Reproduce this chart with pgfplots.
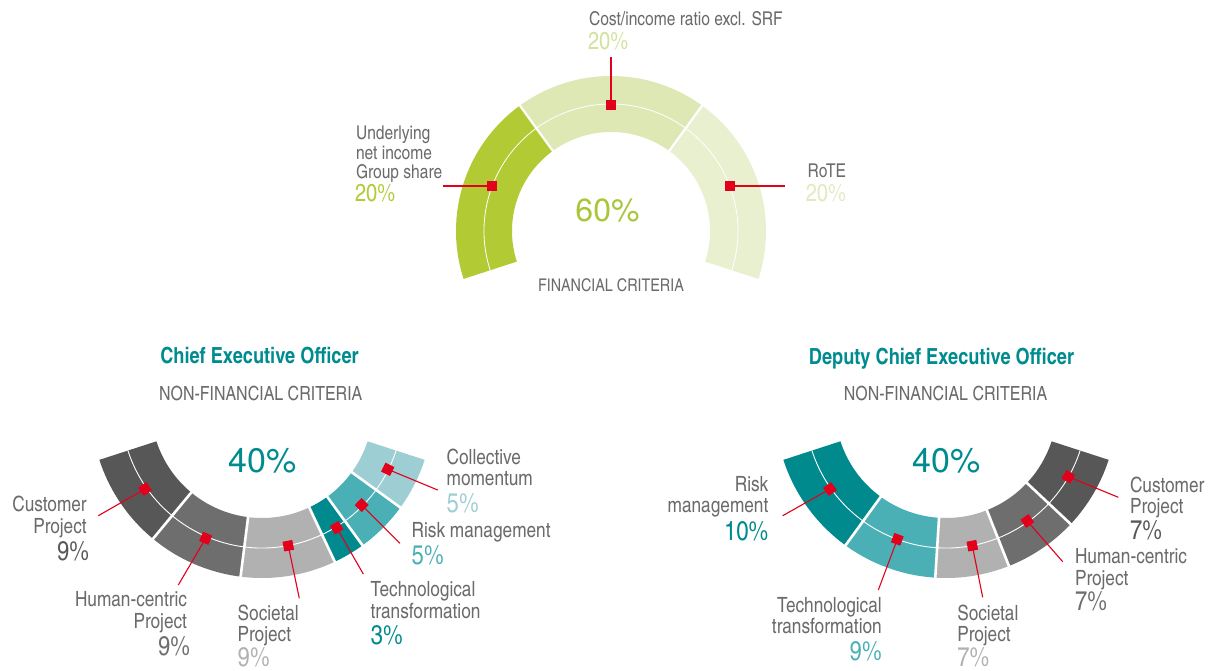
\documentclass[border=0pt]{standalone}
\usepackage{fontspec}
\setmainfont{texgyreheroscn-regular.otf}[BoldFont=texgyreheroscn-bold.otf]
\newfontfamily\numfont{texgyreheros-regular.otf}
\usepackage{pgfplots}
\pgfplotsset{compat=1.18}
\usetikzlibrary{calc}
\definecolor{gA}{HTML}{B2CB35}
\definecolor{gB}{HTML}{DDE8B4}
\definecolor{gC}{HTML}{E8F0CF}
\definecolor{gBt}{HTML}{D3E19E}
\definecolor{gCt}{HTML}{E1EABF}
\definecolor{gBig}{HTML}{A9C53A}
\definecolor{txt}{HTML}{6B6B6B}
\definecolor{teal}{HTML}{008C8F}
\definecolor{dg}{HTML}{575757}
\definecolor{mg}{HTML}{6E6E6E}
\definecolor{lg}{HTML}{B1B1B1}
\definecolor{tA}{HTML}{008A8D}
\definecolor{tB}{HTML}{4AB0B6}
\definecolor{tC}{HTML}{9DCED3}
\definecolor{mk}{HTML}{E3001B}
% segment: cx cy rin rout a1 a2 colour
\newcommand{\seg}[7]{\fill[#7] ($(axis cs:#1,#2)+(#5:#4pt)$) arc[start angle=#5,end angle=#6,radius=#4pt] -- ($(axis cs:#1,#2)+(#6:#3pt)$) arc[start angle=#6,end angle=#5,radius=#3pt] -- cycle;}
% separator: cx cy rin rout angle width
\newcommand{\sep}[6]{\draw[white,line width=#6] ($(axis cs:#1,#2)+(#5:#3pt)$) -- ($(axis cs:#1,#2)+(#5:#4pt)$);}
\tikzset{
  t/.style={inner sep=0pt,outer sep=0pt,text=txt},
  f19/.style={font=\fontsize{19}{19}\selectfont},
  f21/.style={font=\fontsize{21}{21}\selectfont},
  p23/.style={font=\fontsize{24.5}{24.5}\selectfont},
  p27/.style={font=\fontsize{27}{27}\selectfont},
}
\pgfplotsset{leader/.style={mk,line width=1.1pt,mark=square*,mark indices={1},mark size=4.4pt,mark options={solid,fill=mk,draw=none,rotate=#1}},leader/.default=0}
\begin{document}
\begin{tikzpicture}
\begin{axis}[x=1pt,y=1pt,xmin=0,xmax=1212,ymin=0,ymax=670,y dir=reverse,hide axis,clip=false,anchor=south west,at={(0,0)}]
% ---------- top gauge: financial criteria 20 / 20 / 20 (60%) ----------
\seg{611}{231}{99}{155}{198}{126}{gA}
\seg{611}{231}{99}{155}{126}{54}{gB}
\seg{611}{231}{99}{155}{54}{-18}{gC}
\sep{611}{231}{97}{157}{126}{2.2pt}
\sep{611}{231}{97}{157}{54}{2.2pt}
\draw[white,line width=0.8pt] ($(axis cs:611,231)+(198:127pt)$) arc[start angle=198,end angle=-18,radius=127pt];
\addplot[leader] coordinates {(492,186) (443,186)};
\addplot[leader] coordinates {(611,105) (611,57)};
\addplot[leader] coordinates {(730,186) (785,186)};
\node[t,f19,anchor=base west] at (axis cs:589,25) {Cost/income ratio excl. SRF};
\node[t,p23,anchor=base west,text=gBt] at (axis cs:588,49.3) {20\%};
\node[t,f19,anchor=base west] at (axis cs:356,139.3) {Underlying};
\node[t,f19,anchor=base west] at (axis cs:356,159) {net income};
\node[t,f19,anchor=base west] at (axis cs:356,178.3) {Group share};
\node[t,p23,anchor=base west,text=gA] at (axis cs:355,201.7) {20\%};
\node[t,f19,anchor=base east] at (axis cs:846,177.7) {RoTE};
\node[t,p23,anchor=base east,text=gCt] at (axis cs:846,201.7) {20\%};
\node[t,anchor=base,text=gBig,font=\numfont\fontsize{32}{32}\selectfont] at (axis cs:607.5,221.7) {60\%};
\node[t,anchor=base,font=\fontsize{17.5}{17.5}\selectfont] at (axis cs:611,291) {FINANCIAL CRITERIA};
% ---------- CEO: 9 / 9 / 9 / 3 / 5 / 5 (40%) ----------
\seg{262}{407}{111}{171}{198}{230.4}{dg}
\seg{262}{407}{111}{171}{230.4}{262.8}{mg}
\seg{262}{407}{111}{171}{262.8}{295.2}{lg}
\seg{262}{407}{111}{171}{295.2}{306}{tA}
\seg{262}{407}{111}{171}{306}{324}{tB}
\seg{262}{407}{111}{171}{324}{342}{tC}
\sep{262}{407}{109}{173}{230.4}{2.6pt}
\sep{262}{407}{109}{173}{262.8}{2.6pt}
\sep{262}{407}{109}{173}{295.2}{2.6pt}
\sep{262}{407}{109}{173}{306}{2.6pt}
\sep{262}{407}{109}{173}{324}{2.6pt}
\draw[white,line width=0.9pt] ($(axis cs:262,407)+(198:141pt)$) arc[start angle=198,end angle=342,radius=141pt];
\addplot[leader=35] coordinates {(145,489) (98.3,515.7)};
\addplot[leader=66.8] coordinates {(205.7,538.3) (178.3,585)};
\addplot[leader=10.7] coordinates {(288.3,545.7) (299.3,598.3)};
\addplot[leader=31.8] coordinates {(336.7,527.7) (363.3,574)};
\addplot[leader=45.5] coordinates {(361.7,505) (400,543.3)};
\addplot[leader=63.6] coordinates {(387.7,469.3) (437.7,490)};
\node[t,anchor=base,text=teal,font=\bfseries\fontsize{22.2}{22.2}\selectfont] at (axis cs:259.5,363.3) {Chief Executive Officer};
\node[t,anchor=base,font=\fontsize{19.5}{19.5}\selectfont] at (axis cs:260.7,400) {NON-FINANCIAL CRITERIA};
\node[t,anchor=base,text=teal,font=\numfont\fontsize{34}{34}\selectfont] at (axis cs:262.7,472.7) {40\%};
\node[t,f21,anchor=base east] at (axis cs:86.7,511.7) {Customer};
\node[t,f21,anchor=base east] at (axis cs:86.7,533.3) {Project};
\node[t,p27,anchor=base east,text=dg] at (axis cs:89,560) {9\%};
\node[t,f21,anchor=base east] at (axis cs:187,606.7) {Human-centric};
\node[t,f21,anchor=base east] at (axis cs:187,628.3) {Project};
\node[t,p27,anchor=base east,text=mg] at (axis cs:190,655) {9\%};
\node[t,f21,anchor=base west] at (axis cs:237.7,620) {Societal};
\node[t,f21,anchor=base west] at (axis cs:237.7,641.7) {Project};
\node[t,p27,anchor=base west,text=lg] at (axis cs:237.7,666.5) {9\%};
\node[t,f21,anchor=base west] at (axis cs:370.7,596.7) {Technological};
\node[t,f21,anchor=base west] at (axis cs:370.7,618.3) {transformation};
\node[t,p27,anchor=base west,text=tA] at (axis cs:370.7,644) {3\%};
\node[t,f21,anchor=base west] at (axis cs:411.7,537.3) {Risk management};
\node[t,p27,anchor=base west,text=tB] at (axis cs:411.7,564) {5\%};
\node[t,f21,anchor=base west] at (axis cs:446.7,464.3) {Collective};
\node[t,f21,anchor=base west] at (axis cs:446.7,485.5) {momentum};
\node[t,p27,anchor=base west,text=tC] at (axis cs:446.7,512.7) {5\%};
% ---------- Deputy CEO: 10 / 9 / 7 / 7 / 7 (40%) ----------
\seg{946}{407}{111}{171}{198}{234}{tA}
\seg{946}{407}{111}{171}{234}{266.4}{tB}
\seg{946}{407}{111}{171}{266.4}{291.6}{lg}
\seg{946}{407}{111}{171}{291.6}{316.8}{mg}
\seg{946}{407}{111}{171}{316.8}{342}{dg}
\sep{946}{407}{109}{173}{234}{2.6pt}
\sep{946}{407}{109}{173}{266.4}{2.6pt}
\sep{946}{407}{109}{173}{291.6}{2.6pt}
\sep{946}{407}{109}{173}{316.8}{2.6pt}
\draw[white,line width=0.9pt] ($(axis cs:946,407)+(198:141pt)$) arc[start angle=198,end angle=342,radius=141pt];
\addplot[leader=35.3] coordinates {(830,489) (782.7,515.7)};
\addplot[leader=69.8] coordinates {(897.3,539.3) (878.3,590)};
\addplot[leader=10.7] coordinates {(972.3,545.7) (982.7,597.3)};
\addplot[leader=35.5] coordinates {(1027.3,521) (1062.7,561.7)};
\addplot[leader=60.3] coordinates {(1068.3,476.7) (1118.3,497.3)};
\node[t,anchor=base,text=teal,font=\bfseries\fontsize{22.2}{22.2}\selectfont] at (axis cs:941.5,364) {Deputy Chief Executive Officer};
\node[t,anchor=base,font=\fontsize{19.5}{19.5}\selectfont] at (axis cs:945.5,400) {NON-FINANCIAL CRITERIA};
\node[t,anchor=base,text=teal,font=\numfont\fontsize{34}{34}\selectfont] at (axis cs:946.5,472.7) {40\%};
\node[t,f21,anchor=base east] at (axis cs:768.3,491.7) {Risk};
\node[t,f21,anchor=base east] at (axis cs:768.3,512.5) {management};
\node[t,p27,anchor=base east,text=tA] at (axis cs:768.3,540.7) {10\%};
\node[t,f21,anchor=base east] at (axis cs:881.7,612.7) {Technological};
\node[t,f21,anchor=base east] at (axis cs:881.7,633.7) {transformation};
\node[t,p27,anchor=base east,text=tB] at (axis cs:881.7,660.7) {9\%};
\node[t,f21,anchor=base west] at (axis cs:957.3,620) {Societal};
\node[t,f21,anchor=base west] at (axis cs:957.3,641.7) {Project};
\node[t,p27,anchor=base west,text=lg] at (axis cs:957.3,666.5) {7\%};
\node[t,f21,anchor=base west] at (axis cs:1075,563.3) {Human-centric};
\node[t,f21,anchor=base west] at (axis cs:1075,585) {Project};
\node[t,p27,anchor=base west,text=mg] at (axis cs:1075,610) {7\%};
\node[t,f21,anchor=base west] at (axis cs:1130,492.3) {Customer};
\node[t,f21,anchor=base west] at (axis cs:1130,513.3) {Project};
\node[t,p27,anchor=base west,text=dg] at (axis cs:1130,539.3) {7\%};
\end{axis}
\pgfresetboundingbox
\useasboundingbox (0,0) rectangle (1212pt,670pt);
\end{tikzpicture}
\end{document}
